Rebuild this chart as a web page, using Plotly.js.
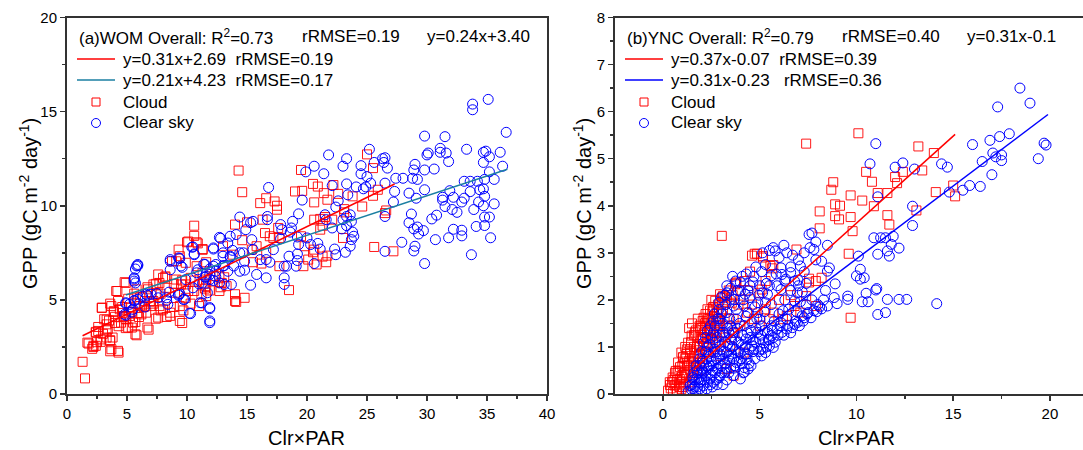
<!DOCTYPE html>
<html>
<head>
<meta charset="utf-8">
<script src="https://cdn.plot.ly/plotly-3.0.1.min.js"></script>
<style>html,body{margin:0;padding:0;background:#fff;}#chart{width:1083px;height:450px;}</style>
</head>
<body>
<div id="chart"></div>
<script>
// ---------- (a) WOM ----------
const womCloud = [[25.0,12.73],[19.5,11.9],[14.3,11.87],[14.6,10.72],[25.5,12.0],[20.5,11.16],[20.9,11.02],[19.0,10.76],[19.6,10.79],[21.4,10.67],[22.2,11.1],[22.6,10.63],[21.7,10.32],[20.6,10.18],[23.8,10.5],[25.9,10.85],[25.5,10.53],[24.6,9.96],[23.1,9.82],[23.1,9.65],[26.6,9.75],[26.5,9.61],[16.6,10.4],[17.3,10.23],[17.5,10.0],[17.5,9.79],[16.1,10.14],[16.3,9.26],[15.0,9.12],[14.0,9.0],[10.6,8.94],[10.6,8.4],[10.1,8.1],[10.9,8.0],[11.3,7.7],[9.3,7.67],[9.4,7.32],[9.9,6.97],[9.1,7.05],[10.8,6.79],[11.6,7.0],[11.3,6.44],[8.0,6.17],[7.7,5.9],[8.2,6.25],[7.6,6.35],[7.2,5.82],[9.1,6.08],[9.5,5.82],[10.3,6.17],[9.9,5.82],[13.0,7.85],[13.8,7.4],[14.6,8.17],[15.4,7.67],[15.8,7.85],[15.5,7.0],[16.2,6.93],[16.6,7.5],[16.9,8.38],[16.5,8.55],[17.6,8.82],[17.7,8.29],[17.2,8.29],[17.7,6.79],[18.5,5.52],[19.7,6.79],[20.1,7.14],[20.6,7.67],[20.8,6.88],[21.6,7.0],[21.3,7.3],[21.7,7.35],[20.5,7.53],[20.6,9.26],[21.3,8.94],[21.1,8.73],[22.1,9.26],[23.0,8.29],[25.6,7.81],[27.2,7.58],[21.1,9.3],[21.5,9.4],[19.5,8.38],[19.8,7.85],[14.0,5.3],[14.1,4.89],[14.8,5.11],[14.0,4.94],[12.9,5.9],[12.7,5.47],[13.3,5.73],[12.2,6.26],[12.7,6.26],[11.6,5.73],[11.6,5.2],[11.5,5.6],[11.2,5.29],[10.1,5.47],[9.4,4.67],[9.4,3.88],[8.6,4.32],[8.6,4.15],[8.0,4.5],[7.6,4.06],[6.7,3.53],[6.6,4.32],[7.0,4.67],[6.2,4.23],[5.7,3.17],[5.5,3.79],[5.4,3.53],[5.1,3.53],[4.8,4.14],[4.5,3.79],[4.25,2.29],[3.7,2.38],[3.6,2.82],[3.8,3.0],[3.4,3.44],[3.3,3.7],[3.1,3.97],[2.4,2.56],[2.2,2.56],[2.4,3.26],[2.6,3.35],[1.7,2.73],[2.9,4.59],[3.7,4.67],[4.1,5.47],[4.8,5.94],[5.8,5.56],[1.3,1.71],[1.5,0.83],[4.25,4.94],[3.9,4.4],[4.4,4.5],[4.9,3.97],[5.2,4.14],[6.1,4.67],[6.5,4.94],[7.2,4.94],[7.7,4.67],[7.4,5.29],[8.3,5.64],[6.75,5.56],[9.0,5.38],[9.9,5.11],[10.6,5.47],[11.0,4.67],[11.6,6.08],[3.0,3.2],[3.5,3.9],[4.0,4.1],[4.6,4.3],[5.3,4.6],[2.8,2.9],[3.3,3.0],[4.3,3.6],[5.9,4.3],[6.9,4.9],[2.5,2.75],[2.1,2.4],
  [10.0,8.06],[10.8,8.06],[11.3,7.66],[8.75,7.05],[8.2,6.2],[7.4,5.85],[6.7,5.67],[4.9,5.9],[4.2,5.47],[2.9,4.57],[3.6,4.8],[3.9,4.35],[4.6,4.62],[4.7,4.09],[5.4,4.35],[5.7,3.82],[6.0,4.09],[6.4,4.62],[6.8,3.42],[7.4,4.0],[7.8,4.44],[8.3,4.09],[8.9,4.62],[9.6,3.77],[9.7,4.44],[10.3,4.8],[5.6,5.33],[6.1,5.15],[5.1,5.06],[3.3,3.95],[2.6,3.56],[2.4,3.3],[3.3,3.38],[3.6,2.86],[2.2,2.5],[3.6,2.27],[4.3,2.2],[2.8,2.77],[1.8,2.68],[4.0,3.77],[4.9,3.5],[5.8,3.12],[5.7,4.8],[7.2,4.8],[7.8,5.33],[8.9,5.85],[9.6,6.03],[10.6,6.03],[11.4,5.85],[11.9,5.5],[12.8,5.67],[13.1,6.2]];

const womClear = [[33.8,15.4],[33.8,15.1],[35.1,15.65],[29.8,13.7],[31.5,13.67],[36.6,13.9],[25.2,13.0],[21.8,12.7],[31.1,13.05],[31.1,12.84],[31.6,12.8],[30.0,12.7],[30.1,12.8],[33.3,13.0],[34.7,12.84],[34.9,12.9],[35.2,12.6],[36.1,12.84],[31.8,12.35],[34.7,12.3],[36.3,12.1],[35.2,11.8],[35.6,11.4],[34.8,11.4],[34.2,11.3],[33.1,11.3],[33.6,11.3],[33.6,10.75],[34.4,10.85],[34.8,10.5],[34.7,10.9],[35.6,10.1],[34.3,10.2],[33.9,9.8],[34.7,10.0],[34.8,9.4],[35.2,9.4],[34.8,8.95],[34.1,8.9],[35.3,8.3],[33.7,7.4],[32.9,8.7],[32.9,8.4],[32.2,8.75],[31.8,8.3],[32.5,9.65],[32.1,9.8],[31.5,9.96],[31.3,10.45],[31.9,10.8],[32.2,10.45],[32.9,10.2],[33.1,10.4],[31.3,10.3],[30.8,9.5],[30.4,9.3],[30.7,8.2],[29.8,10.85],[29.8,11.9],[30.6,11.95],[29.0,12.2],[28.9,11.9],[28.8,11.46],[29.2,11.4],[29.1,10.4],[28.5,10.67],[28.0,11.46],[27.4,11.46],[27.3,10.76],[27.2,10.2],[28.7,9.56],[28.5,9.1],[28.9,8.77],[29.2,8.87],[29.7,8.68],[29.3,8.5],[29.0,7.85],[28.9,7.6],[29.8,6.93],[27.9,8.06],[26.5,9.43],[26.5,7.58],[26.5,11.2],[26.3,12.5],[26.5,12.55],[26.4,12.3],[26.7,12.0],[25.6,12.3],[24.5,12.13],[24.5,11.7],[25.0,11.55],[25.3,11.2],[24.7,10.9],[24.9,11.0],[24.1,11.0],[23.3,11.16],[23.4,10.58],[23.3,12.5],[23.0,12.1],[21.4,11.7],[20.6,12.1],[19.9,11.8],[22.1,11.07],[22.6,10.26],[22.4,9.93],[23.6,9.52],[23.3,9.43],[23.0,9.26],[23.7,9.17],[23.3,8.94],[22.9,8.77],[22.1,8.82],[21.5,9.52],[21.6,9.26],[23.9,8.38],[23.8,8.6],[23.7,8.2],[23.6,7.85],[23.2,7.53],[22.3,7.7],[22.4,7.4],[21.1,7.7],[20.9,8.0],[20.6,6.93],[20.3,7.94],[20.0,8.29],[19.3,7.94],[19.2,8.34],[19.2,7.44],[19.2,7.09],[19.1,6.79],[18.5,7.32],[18.8,9.17],[18.7,8.82],[18.6,8.6],[17.9,8.73],[17.8,9.0],[17.8,8.24],[19.3,9.57],[19.6,10.3],[16.8,10.97],[16.7,9.43],[16.7,9.26],[15.5,9.17],[15.3,9.1],[14.4,9.4],[12.7,8.32],[13.4,8.02],[13.8,7.63],[13.6,7.32],[13.0,7.32],[12.2,7.76],[10.5,7.81],[10.6,7.44],[11.5,6.88],[12.2,6.79],[12.4,6.52],[11.9,6.35],[11.6,6.26],[11.3,5.9],[11.7,5.38],[10.5,5.64],[9.9,6.08],[9.5,6.8],[9.3,7.23],[8.6,7.14],[8.6,6.6],[9.3,5.3],[10.2,4.29],[11.9,4.59],[11.9,3.88],[11.1,4.85],[9.8,5.03],[8.3,5.11],[8.4,4.76],[7.6,5.11],[7.0,5.3],[6.6,5.3],[6.3,5.2],[5.9,5.03],[5.6,4.94],[5.2,4.76],[4.9,4.85],[4.8,4.23],[5.5,4.5],[5.9,6.88],[5.8,6.8],[5.6,6.17],[5.6,6.0],[14.9,8.73],[15.4,8.2],[15.5,7.67],[14.7,7.5],[14.8,6.58],[15.3,5.78],[15.8,6.35],[16.6,6.17],[16.9,7.0],[17.2,7.67],[18.1,5.82],[18.1,6.17],[18.1,6.79],[18.3,6.79],[16.1,7.14],[16.6,7.14],[13.9,6.8],[14.4,6.52],[14.8,7.05],[13.4,6.52],[13.0,6.8],[13.7,5.82],[13.1,5.82],[12.7,5.9],[12.4,6.88],[13.6,8.38],[14.1,8.47],[14.4,7.5],[13.0,7.5],[12.4,6.23],[11.9,6.08],[10.8,6.44],[10.9,6.6],
  [12.8,8.27],[12.2,7.7],[10.4,7.8],[10.6,7.4],[9.4,7.2],[8.6,7.05],[9.6,6.73],[11.4,6.9],[11.9,6.64],[13.1,6.82],[13.6,7.27],[11.5,6.2],[12.2,6.03],[11.0,5.85],[9.7,5.02],[9.3,5.24],[8.3,4.97],[7.5,5.33],[6.7,5.24],[6.5,4.62],[6.0,4.8],[5.6,4.97],[4.9,4.8],[4.9,4.18],[5.4,4.35],[5.7,6.64],[5.9,6.82],[5.6,6.11],[5.7,5.9],[10.3,4.27],[11.25,4.84],[11.9,4.53],[11.9,3.79],[8.5,5.41],[9.4,5.33]];

// fit lines: slope, intercept, x-extent
const womCloudFit = {slope: 0.31, intercept: 2.69, xs: [1.3, 27.3]};
const womClearFit = {slope: 0.21, intercept: 4.23, xs: [4.9, 36.7]};

// ---------- (b) YNC ----------
const yncCloud = [[10.1,5.54],[7.4,5.32],[13.2,5.26],[14.0,5.12],[10.5,4.72],[10.8,4.51],[8.8,4.5],[8.7,4.34],[12.4,4.72],[13.4,4.75],[12.0,4.61],[12.1,4.48],[11.6,4.27],[11.1,4.27],[9.7,4.22],[10.3,4.11],[8.9,4.03],[9.15,4.0],[10.9,3.99],[14.1,4.29],[15.0,4.43],[15.1,4.2],[11.6,3.8],[11.7,3.6],[13.1,3.9],[8.9,3.78],[9.1,3.71],[9.7,3.76],[9.8,3.46],[8.1,3.88],[8.1,3.52],[3.04,3.36],[6.9,3.07],[9.6,2.98],[9.7,1.62],[7.9,2.4],[8.2,2.47],[7.55,2.45],[7.55,2.37],[7.9,1.87],[7.4,2.08],[4.6,2.94],[4.74,2.98],[5.15,2.93],[5.55,2.72],[5.7,2.74],[5.3,2.4],[5.1,2.22],[5.0,2.15],[3.8,2.37],[3.1,2.08],[3.3,2.1],[2.6,1.85],[2.8,1.73],[2.4,1.59],[2.26,1.52],[1.65,1.31],[1.4,0.95],[1.04,0.78],[0.66,0.49],[0.35,0.25],[0.26,0.07],[0.6,0.18],[0.87,0.32],[1.13,0.46],[1.3,0.6],[1.74,0.88],[1.9,1.02],[2.0,1.17],[2.17,1.31],[2.43,1.38],[2.6,1.24],[2.8,1.45],[2.86,1.59],[3.1,1.8],[3.56,1.94],[4.0,2.01],[4.34,1.73],[4.7,1.59],[5.0,1.45],[5.5,1.59],[5.7,1.73],[6.2,1.59],[6.4,1.66],[6.8,1.87],[7.1,1.73],[2.26,0.88],[1.9,0.67],[1.56,0.46],[1.2,0.25],[0.95,0.11],[1.56,0.74],[2.1,1.02],[2.43,1.17],[2.95,1.31],[3.3,1.45],[3.65,1.59],[4.0,1.45],[3.47,1.02],[2.95,0.81],[3.3,0.53],[4.17,0.88],[3.65,0.39],[0.78,0.67],[0.95,0.88],[1.3,1.09],[1.48,1.24],[1.9,1.45],[2.1,1.62],[2.43,1.77],[2.7,1.98],[2.95,2.12],[3.73,2.33],[0.5,0.35],[0.8,0.5],[1.0,0.4],[1.1,0.65],[1.2,0.85],[1.4,0.5],[1.6,1.0],[1.8,1.2],[2.0,1.4],[1.7,0.6],[1.9,0.85],[1.2,0.05],[0.7,0.05],[2.2,1.7],[2.5,2.0],[1.5,1.5],[1.8,1.6],
  [0.36,0.19],[0.52,0.04],[0.47,0.25],[0.62,0.45],[0.72,0.3],[0.88,0.57],[0.98,0.36],[1.03,0.15],[1.03,0.78],[1.24,0.61],[1.4,0.25],[1.4,0.87],[1.55,0.57],[1.6,1.25],[1.76,0.44],[1.76,1.0],[1.91,0.66],[1.91,0.93],[1.91,1.4],[2.07,1.18],[2.17,1.5],[2.27,1.08],[2.27,1.29],[2.33,1.6],[2.43,1.35],[2.58,1.14],[2.58,1.63],[2.6,1.84],[2.78,1.31],[2.78,1.71],[2.95,1.46],[3.05,2.05],[3.3,2.05],[3.77,2.35],[4.86,2.98],[5.17,2.9],[5.63,2.67],[1.2,0.4],[0.85,0.15],[1.6,0.8],[2.0,0.5],[2.4,0.9],[2.9,1.1],[3.4,1.6],[3.9,1.9],[4.4,2.2],[1.35,1.4],[1.15,1.0],
  [0.4,0.12],[0.55,0.3],[0.65,0.2],[0.75,0.45],[0.9,0.25],[1.0,0.6],[1.1,0.2],[1.15,0.75],[1.25,0.95],[1.35,0.7],[1.45,1.1],[1.5,0.35],[1.6,0.65],[1.7,1.35],[1.8,0.8],[1.85,1.05],[2.0,1.25],[2.05,1.55],[2.15,0.9],[2.2,1.45],[2.3,1.8],[2.35,1.2],[2.5,1.5],[2.55,1.75],[2.65,1.35],[2.75,1.6],[2.85,1.9],[2.9,1.55],[3.0,1.75],[3.2,1.95],[3.4,2.2],[3.6,2.1],[4.2,2.4],[4.5,2.6],[3.2,1.2],[3.7,1.3],[4.6,1.9],[5.3,1.8],[6.0,2.0],[6.6,2.1]];

const yncClear = [[18.45,6.5],[17.3,6.1],[18.97,6.18],[17.9,5.53],[17.4,5.47],[16.9,5.39],[16.0,5.3],[19.7,5.33],[19.8,5.29],[19.4,5.0],[17.05,5.12],[17.2,5.04],[17.5,5.08],[17.5,4.96],[16.5,4.94],[17.0,4.66],[16.4,4.41],[15.85,4.43],[15.5,4.33],[14.8,4.29],[14.4,4.89],[14.7,4.82],[13.0,4.78],[12.4,4.91],[12.0,4.82],[11.0,5.32],[10.7,4.89],[11.1,4.19],[12.9,3.99],[12.9,3.58],[12.2,3.1],[11.9,3.35],[11.5,3.32],[11.25,3.32],[10.9,3.32],[11.8,3.18],[11.6,3.04],[11.7,2.93],[11.1,2.97],[10.1,2.93],[10.2,2.65],[10.4,2.47],[10.0,2.51],[10.2,2.44],[9.55,2.08],[9.55,2.01],[10.3,1.96],[10.6,1.96],[10.5,2.14],[11.0,2.21],[11.05,2.24],[11.6,2.01],[12.2,2.01],[12.6,2.01],[14.15,1.92],[11.1,1.69],[11.5,1.73],[9.0,1.92],[8.5,1.87],[8.9,2.34],[8.4,2.2],[8.85,2.05],[8.2,1.81],[8.5,2.61],[8.6,2.68],[8.2,2.82],[8.5,3.16],[7.9,3.23],[7.8,3.07],[7.7,3.42],[7.55,3.39],[7.6,3.11],[7.1,2.72],[6.98,2.42],[7.2,2.17],[6.95,2.15],[7.1,1.96],[6.8,1.98],[6.4,3.0],[6.25,3.16],[5.7,3.11],[5.5,3.05],[5.15,3.0],[5.8,3.04],[6.1,2.68],[6.15,2.54],[6.35,2.44],[6.6,2.58],[4.65,2.38],[4.0,2.19],[4.25,2.12],[4.4,2.19],[5.15,2.15],[5.4,2.12],[5.6,2.51],[6.1,2.22],[6.2,1.77],[5.3,1.94],[4.9,1.94],[3.7,2.01],[3.65,1.87],[3.3,1.73],[4.4,1.73],[5.0,1.59],[5.6,1.45],[6.1,1.52],[6.4,1.59],[6.4,1.38],[6.7,1.41],[6.95,1.52],[7.2,1.66],[7.5,1.73],[7.8,1.77],[5.6,1.24],[5.5,1.02],[5.7,0.99],[5.3,0.88],[5.1,0.81],[4.9,1.31],[4.3,1.17],[4.4,0.53],[4.2,0.56],[4.2,0.46],[4.0,0.88],[3.65,0.74],[3.5,1.17],[3.1,1.31],[2.95,1.59],[2.6,0.88],[2.26,0.74],[2.1,0.46],[1.9,0.25],[1.56,0.11],[1.9,0.11],[2.26,0.11],[1.74,0.32],[2.43,0.32],[2.8,0.53],[3.1,0.74],[3.3,0.88],[1.9,0.6],[1.4,0.18],[2.43,0.6],[2.95,1.02],[3.65,1.31],[4.2,1.45],[4.6,1.52],[4.9,1.73],[3.8,1.59],[3.5,1.45],[4.2,1.87],[4.0,2.37],[3.3,2.15],[2.9,1.8],[2.7,1.45],[2.95,1.24],[3.2,0.46],[3.65,0.39],[4.0,0.32],[4.35,0.74],[4.6,1.02],[5.0,1.17],[5.4,1.31],[5.9,1.38],[2.1,0.18],[2.6,0.25],[2.95,0.39],[3.5,0.56],[3.8,0.67],[4.35,0.85],[4.7,0.95],[5.2,1.09],[5.7,1.2],[6.15,1.31],[6.8,1.48],[7.3,1.62],[1.6,0.3],[1.8,0.45],[2.0,0.55],[2.2,0.4],[2.4,0.8],[2.6,0.6],[2.8,0.9],[3.0,0.6],[3.2,1.1],[3.4,0.8],[3.6,1.0],[3.9,1.1],[4.1,0.65],[4.5,1.2],[4.8,1.4],[2.0,0.9],[2.3,1.0],[2.5,1.2],[2.7,1.1],[3.1,1.5],[3.4,1.3],[1.7,0.05],[2.0,0.3],[2.5,0.4],[2.8,0.2],[3.3,0.3],
  [1.3,0.05],[1.5,0.2],[1.6,0.45],[1.7,0.6],[1.8,0.15],[1.9,0.75],[2.0,0.05],[2.1,0.65],[2.2,0.9],[2.3,0.25],[2.35,0.55],[2.4,1.05],[2.5,0.7],[2.55,0.15],[2.6,1.3],[2.7,0.45],[2.75,0.75],[2.8,1.2],[2.85,1.6],[2.9,0.35],[3.0,0.95],[3.05,1.7],[3.1,0.2],[3.15,1.25],[3.2,0.65],[3.25,1.9],[3.35,1.05],[3.4,0.45],[3.45,1.6],[3.5,2.0],[3.55,0.85],[3.6,1.35],[3.7,0.6],[3.75,1.15],[3.8,1.8],[3.85,2.2],[3.9,0.9],[3.95,1.5],[4.05,0.75],[4.1,1.25],[4.15,2.0],[4.25,1.0],[4.3,1.65],[4.45,0.65],[4.5,2.3],[4.55,1.35],[4.65,0.9],[4.75,1.85],[4.8,1.1],[4.95,2.1],[5.05,0.95],[5.1,1.45],[5.25,1.75],[5.35,2.35],[5.45,1.15],[5.6,1.9],[5.75,1.55],[5.85,2.55],[6.0,1.7],[6.3,2.0],[6.5,1.8],[6.6,2.2],[6.9,1.75],[7.0,2.3],[7.4,1.9],[7.7,2.0],[8.0,1.9],[8.3,2.0],[2.2,1.2],[2.45,1.45],[2.65,1.7],[3.0,2.05],[3.3,2.3],[3.6,2.5],[4.3,2.55],[4.8,2.7],[5.1,2.6],[5.3,2.75],[6.0,2.9],[6.7,2.95],[7.0,2.85],[7.3,2.6],
  [1.45,0.1],[1.55,0.35],[1.65,0.15],[1.75,0.5],[1.85,0.3],[1.95,0.45],[2.05,0.7],[2.15,0.3],[2.25,0.6],[2.35,0.85],[2.45,0.2],[2.55,0.5],[2.65,0.95],[2.75,0.3],[2.85,0.65],[2.95,0.85],[3.05,0.45],[3.15,0.9],[3.25,0.55],[3.35,1.4],[3.45,0.7],[3.55,1.15],[3.65,0.55],[3.75,0.95],[3.85,1.4],[3.95,0.7],[4.05,1.05],[4.15,0.45],[4.25,0.85],[4.35,1.3],[4.45,0.95],[4.55,0.6],[4.65,1.15],[4.75,0.75],[4.85,1.6],[4.95,0.9],[5.05,1.25],[5.15,0.95],[5.25,1.35],[5.35,1.0],[5.5,1.15],[5.65,1.35],[5.8,1.1],[5.95,1.25],[6.05,1.45],[6.25,1.25],[6.45,1.45],[6.6,1.3],[6.85,1.55],[7.05,1.45],[7.25,1.55],[7.45,1.7],[7.65,1.62],[7.95,1.75],[8.1,1.85],[2.1,1.1],[2.3,1.35],[2.6,1.55],[2.9,1.95],[3.2,2.1],[3.5,2.25],[3.75,2.4],[4.1,2.5],[4.5,2.05],[4.7,2.5],[5.0,2.3],[5.5,2.3],[5.9,2.3],[6.3,2.4],[6.6,2.7],[6.8,2.4],[7.4,2.35],[7.3,3.0],[7.9,2.85]];

const yncCloudFit = {slope: 0.37, intercept: -0.07, xs: [1.6, 15.1]};
const yncClearFit = {slope: 0.31, intercept: -0.23, xs: [1.4, 19.9]};

// ---------- text ----------
const NB = '\u00a0';
const headerA = ['(a)WOM Overall: R<sup>2</sup>=0.73', 'rRMSE=0.19', 'y=0.24x+3.40'];
const headerB = ['(b)YNC Overall: R<sup>2</sup>=0.79', 'rRMSE=0.40', 'y=0.31x-0.1'];
const labelsA = ['y=0.31x+2.69' + NB + NB + 'rRMSE=0.19', 'y=0.21x+4.23' + NB + NB + 'rRMSE=0.17'];
const labelsB = ['y=0.37x-0.07' + NB + NB + 'rRMSE=0.39', 'y=0.31x-0.23' + NB + NB + NB + 'rRMSE=0.36'];
const seriesNames = ['Cloud', 'Clear sky'];
const xTitle = 'Clr\u00d7PAR';
const yTitle = 'GPP (gC m<sup>-2</sup> day<sup>-1</sup>)';

const FONT = 'Liberation Sans, Arial, sans-serif';
const AX = '#333333';
const RED = 'rgba(255,0,0,0.9)';
const BLUE = '#0000ff';
const TEAL = '#1b7fa2';

function fitLine(f) { return {x: f.xs, y: f.xs.map(v => f.slope * v + f.intercept)}; }
function pts(arr) { return {x: arr.map(p => p[0]), y: arr.map(p => p[1])}; }

function panel(cloud, clear, cFit, sFit, labels, xa, ya, fitColor2) {
  const c = pts(cloud), s = pts(clear), lc = fitLine(cFit), ls = fitLine(sFit);
  return [
    {type: 'scatter', mode: 'markers', x: c.x, y: c.y, xaxis: xa, yaxis: ya, name: seriesNames[0],
     marker: {symbol: 'square-open', size: 9, color: RED, line: {width: 1}}},
    {type: 'scatter', mode: 'markers', x: s.x, y: s.y, xaxis: xa, yaxis: ya, name: seriesNames[1],
     marker: {symbol: 'circle-open', size: 10, color: BLUE, line: {width: 1}}},
    {type: 'scatter', mode: 'lines', x: lc.x, y: lc.y, xaxis: xa, yaxis: ya, name: labels[0],
     line: {color: '#ff0000', width: 1.5}},
    {type: 'scatter', mode: 'lines', x: ls.x, y: ls.y, xaxis: xa, yaxis: ya, name: labels[1],
     line: {color: fitColor2, width: 1.5}}
  ];
}

const data = [].concat(
  panel(womCloud, womClear, womCloudFit, womClearFit, labelsA, 'x', 'y', TEAL),
  panel(yncCloud, yncClear, yncCloudFit, yncClearFit, labelsB, 'x2', 'y2', BLUE)
);

const W = 1083, H = 450;
const yDom = [(H - 394) / H, (H - 17.5) / H];
function axis(dom, range, dtick, minorDt, anchor) {
  return {
    domain: dom, range: range, dtick: dtick, tick0: 0, anchor: anchor,
    showgrid: false, zeroline: false, showline: true, linecolor: AX, linewidth: 2, mirror: true,
    ticks: 'outside', ticklen: 5, tickwidth: 1.5, tickcolor: AX,
    minor: {dtick: minorDt, tick0: 0, ticks: 'outside', ticklen: 3, tickwidth: 1.5, tickcolor: AX, showgrid: false},
    tickfont: {family: FONT, size: 15, color: '#000'}, fixedrange: true
  };
}

// manual legend blocks (text as annotations, samples as paper shapes)
const px = v => v / W, py = v => 1 - v / H;
const annotations = [];
const shapes = [];
function legendBlock(x0, xs, header, labels, col2) {
  const f17 = {family: FONT, size: 17, color: '#000'};
  header.forEach((t, i) => annotations.push({text: t, xref: 'paper', yref: 'paper', x: px(xs[i]), y: py(37), xanchor: 'left', yanchor: 'middle', showarrow: false, font: f17}));
  const rows = [59, 80, 102, 123];
  const texts = [labels[0], labels[1], seriesNames[0], seriesNames[1]];
  texts.forEach((t, i) => annotations.push({text: t, xref: 'paper', yref: 'paper', x: px(x0 + 44), y: py(rows[i]), xanchor: 'left', yanchor: 'middle', showarrow: false, font: f17}));
  shapes.push({type: 'line', xref: 'paper', yref: 'paper', x0: px(x0), x1: px(x0 + 38), y0: py(rows[0]), y1: py(rows[0]), line: {color: '#ff0000', width: 1.5}});
  shapes.push({type: 'line', xref: 'paper', yref: 'paper', x0: px(x0), x1: px(x0 + 38), y0: py(rows[1]), y1: py(rows[1]), line: {color: col2, width: 1.5}});
  const cx = x0 + 19;
  shapes.push({type: 'rect', xref: 'paper', yref: 'paper', x0: px(cx - 4), x1: px(cx + 4), y0: py(rows[2] + 4), y1: py(rows[2] - 4), line: {color: '#ff0000', width: 1}});
  shapes.push({type: 'circle', xref: 'paper', yref: 'paper', x0: px(cx - 4.5), x1: px(cx + 4.5), y0: py(rows[3] + 4.5), y1: py(rows[3] - 4.5), line: {color: BLUE, width: 1}});
}
legendBlock(77, [77, 300, 425], headerA, labelsA, TEAL);
legendBlock(625, [625, 840, 965], headerB, labelsB, BLUE);

const fT = {family: FONT, size: 20, color: '#000'};
annotations.push(
  {text: yTitle, xref: 'paper', yref: 'paper', x: px(28), y: py(204), textangle: -90, showarrow: false, xanchor: 'center', yanchor: 'middle', font: fT},
  {text: yTitle, xref: 'paper', yref: 'paper', x: px(582), y: py(204), textangle: -90, showarrow: false, xanchor: 'center', yanchor: 'middle', font: fT},
  {text: xTitle, xref: 'paper', yref: 'paper', x: px(306), y: py(438), showarrow: false, xanchor: 'center', yanchor: 'middle', font: fT},
  {text: xTitle, xref: 'paper', yref: 'paper', x: px(856), y: py(438), showarrow: false, xanchor: 'center', yanchor: 'middle', font: fT}
);

const layout = {
  width: W, height: H, margin: {l: 0, r: 0, t: 0, b: 0},
  paper_bgcolor: '#fff', plot_bgcolor: '#fff', showlegend: false,
  font: {family: FONT, color: '#000'},
  xaxis: axis([67 / W, 547 / W], [0, 40], 5, 2.5, 'y'),
  yaxis: axis(yDom, [0, 20], 5, 2.5, 'x'),
  xaxis2: axis([615 / W, 1], [-2.48, 21.71], 5, 2.5, 'y2'),
  yaxis2: axis(yDom, [0, 8], 1, 0.5, 'x2'),
  annotations: annotations,
  shapes: shapes
};

Plotly.newPlot('chart', data, layout, {displayModeBar: false, staticPlot: true});
</script>
</body>
</html>
